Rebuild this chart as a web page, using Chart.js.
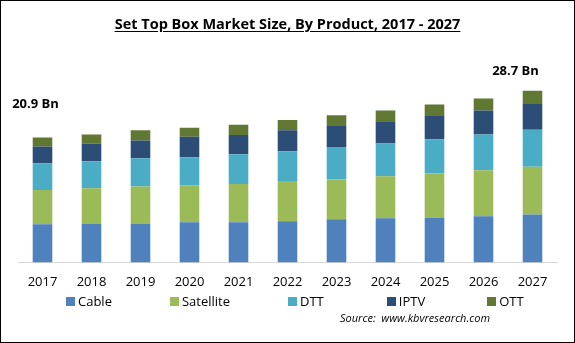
<!DOCTYPE html>
<html>
<head>
<meta charset="utf-8">
<script src="https://cdn.jsdelivr.net/npm/chart.js@4"></script>
<style>
    html, body { margin: 0; padding: 0; background: #fff; }
    .wrap { position: relative; width: 575px; height: 343px; overflow: hidden; }
    .frame { position: absolute; left: 0; top: 0; width: 575px; height: 343px; box-sizing: border-box; border: 1px solid #000; pointer-events: none; }
    .title { position: absolute; left: 0; top: 14px; width: 575px; text-align: center; font: bold 14.5px "Open Sans", sans-serif; color: #000; }
    .title span { text-decoration: underline; text-underline-offset: 2px; }
    .legend { position: absolute; left: 66px; top: 292px; display: flex; font: 13px "Open Sans", sans-serif; color: #000; }
    .legend-item { display: flex; align-items: center; margin-right: 58px; }
    .legend-item:nth-child(3) { margin-right: 63px; }
    .legend-item:nth-child(4) { margin-right: 62px; }
    .legend-box { width: 9px; height: 9px; margin-right: 3px; }
    .source { position: absolute; left: 340px; top: 310px; font: italic 11px "Open Sans", sans-serif; color: #000; white-space: pre; }
</style>
</head>
<body>
<div class="wrap">
    <canvas id="chart"></canvas>
    <div class="title"><span>Set Top Box Market Size, By Product, 2017 - 2027</span></div>
    <div class="legend" id="legend"></div>
    <div class="source">Source:  www.kbvresearch.com</div>
    <div class="frame"></div>
</div>
<script>
// 年份
const years = ['2017', '2018', '2019', '2020', '2021', '2022', '2023', '2024', '2025', '2026', '2027'];

// 各产品市场规模 (Bn)
const cable     = [6.4, 6.5, 6.5, 6.7, 6.7, 6.9, 7.2, 7.4, 7.5, 7.7, 8.0];
const satellite = [5.7, 5.9, 6.2, 6.2, 6.4, 6.7, 6.7, 7.0, 7.4, 7.7, 8.0];
const dtt       = [4.5, 4.5, 4.7, 4.7, 5.0, 5.0, 5.4, 5.5, 5.7, 6.0, 6.2];
const iptv      = [2.8, 3.0, 3.0, 3.4, 3.2, 3.5, 3.5, 3.7, 4.0, 4.0, 4.4];
const ott       = [1.5, 1.5, 1.7, 1.5, 1.7, 1.7, 1.8, 1.8, 1.8, 2.0, 2.1];

const series = [
    { label: 'Cable', data: cable, color: '#4F81BD' },
    { label: 'Satellite', data: satellite, color: '#9BBB59' },
    { label: 'DTT', data: dtt, color: '#4BACC6' },
    { label: 'IPTV', data: iptv, color: '#2C4D75' },
    { label: 'OTT', data: ott, color: '#617833' }
];

// 每年合计
const totals = years.map((_, i) => series.reduce((s, d) => s + d.data[i], 0));

// 首尾年份的合计标注
const totalLabels = {
    id: 'totalLabels',
    afterDatasetsDraw(chart) {
        const { ctx, scales: { x, y } } = chart;
        const marks = [
            { i: 0, dx: -7, dy: -33 },
            { i: years.length - 1, dx: -17, dy: -19 }
        ];
        ctx.save();
        ctx.font = 'bold 13px "Open Sans", sans-serif';
        ctx.fillStyle = '#000';
        ctx.textAlign = 'center';
        ctx.textBaseline = 'middle';
        marks.forEach(m => {
            const px = x.getPixelForValue(m.i) + m.dx;
            const py = y.getPixelForValue(totals[m.i]) + m.dy;
            ctx.fillText(totals[m.i].toFixed(1) + ' Bn', px, py);
        });
        ctx.restore();
    }
};

const chart = new Chart(document.getElementById('chart'), {
    type: 'bar',
    data: {
        labels: years,
        datasets: series.map(s => ({
            label: s.label,
            data: s.data,
            backgroundColor: s.color,
            barPercentage: 0.4,
            categoryPercentage: 1
        }))
    },
    options: {
        responsive: true,
        maintainAspectRatio: false,
        animation: false,
        layout: { padding: { left: 18, right: 18, top: 83, bottom: 41 } },
        plugins: {
            legend: { display: false },
            tooltip: { enabled: false }
        },
        scales: {
            x: {
                stacked: true,
                grid: { display: false, drawTicks: false },
                border: { color: '#D9D9D9', width: 1 },
                ticks: { color: '#000', font: { family: 'Open Sans', size: 13 }, padding: 12 }
            },
            y: {
                stacked: true,
                display: false,
                min: 0,
                max: 30
            }
        }
    },
    plugins: [totalLabels]
});

// 图例
document.getElementById('legend').innerHTML = series.map(s => `
    <div class="legend-item"><span class="legend-box" style="background:${s.color}"></span>${s.label}</div>
`).join('');
</script>
</body>
</html>
